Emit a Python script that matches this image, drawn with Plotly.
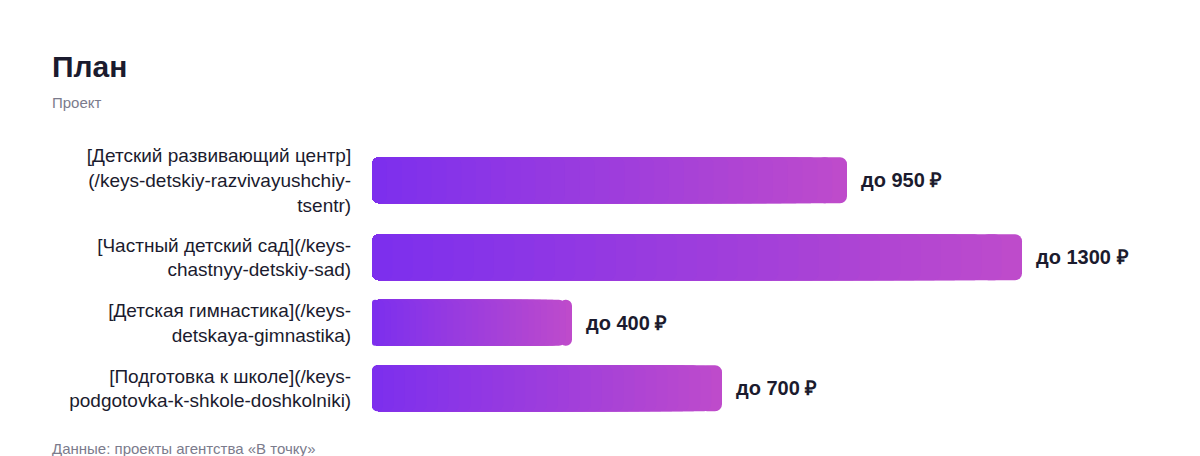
import plotly.graph_objects as go

# --- data ---
labels = [
    "[Детский развивающий центр]<br>(/keys-detskiy-razvivayushchiy-<br>tsentr)",
    "[Частный детский сад](/keys-<br>chastnyy-detskiy-sad)",
    "[Детская гимнастика](/keys-<br>detskaya-gimnastika)",
    "[Подготовка к школе](/keys-<br>podgotovka-k-shkole-doshkolniki)",
]
values = [950, 1300, 400, 700]
value_text = [f"до {v} ₽" for v in values]

TEXT = "#1b1b2e"
MUTED = "#7b7b8c"
C_LEFT = (124, 47, 238)
C_RIGHT = (190, 75, 203)
FONT = "Liberation Sans, Arial, sans-serif"

# page body has an 8px margin, so the figure is 8px smaller and everything shifted
W, H = 1192, 448
ML, MT, PW = 364, 128, 800

# row heights follow the number of label lines
LINE_H = 23
ROW_GAP = 19.5
lines = [lab.count("<br>") + 1 for lab in labels]
heights = [n * LINE_H + ROW_GAP for n in lines]
centers = []
acc = 0
for h in heights:
    centers.append(acc + h / 2)
    acc += h
total_h = acc


def mix(t):
    r, g, b = (round(a + (c - a) * t) for a, c in zip(C_LEFT, C_RIGHT))
    return f"rgb({r},{g},{b})"


def px_x(px):
    return (px - ML) / PW


def px_y(py):
    return (MT + total_h - py) / total_h


fig = go.Figure()

# gradient bars: a right-rounded cap underneath, then left-rounded layers on top
N = 32
fig.add_trace(go.Bar(
    orientation="h", y=centers,
    base=[v * (N - 2) / N for v in values],
    x=[v * 2 / N for v in values],
    width=46, marker=dict(color=mix(1), cornerradius=7, line_width=0),
    hoverinfo="skip", showlegend=False,
))
for k in range(N - 1, 0, -1):
    fig.add_trace(go.Bar(
        orientation="h", y=centers,
        base=[v * k / N for v in values],
        x=[-v * k / N for v in values],
        width=46, marker=dict(color=mix((k - 0.5) / N), cornerradius=7, line_width=0),
        hoverinfo="skip", showlegend=False,
    ))

for v, c, t in zip(values, centers, value_text):
    fig.add_annotation(x=v, y=c, text=f"<b>{t}</b>", showarrow=False,
                       xanchor="left", xshift=12,
                       font=dict(size=20, color=TEXT, family=FONT))

fig.add_annotation(x=px_x(42), y=px_y(94), xref="paper", yref="paper",
                   text="Проект", showarrow=False, xanchor="left", yanchor="middle",
                   font=dict(size=15, color=MUTED, family=FONT))
fig.add_annotation(x=px_x(42), y=px_y(440), xref="paper", yref="paper",
                   text="Данные: проекты агентства «В точку»", showarrow=False,
                   xanchor="left", yanchor="middle",
                   font=dict(size=15, color=MUTED, family=FONT))

fig.update_layout(
    width=W, height=H,
    margin=dict(l=ML, r=W - ML - PW, t=MT, b=H - MT - total_h),
    paper_bgcolor="white", plot_bgcolor="white",
    barmode="overlay",
    font=dict(family=FONT, color=TEXT),
    title=dict(text="<b>План</b>", x=44 / W, xref="container", xanchor="left",
               y=1 - 58 / H, yref="container", yanchor="middle",
               font=dict(size=30, color=TEXT, family=FONT)),
    xaxis=dict(range=[0, 1600], visible=False, fixedrange=True),
    yaxis=dict(range=[total_h, 0], tickvals=centers, ticktext=labels,
               showgrid=False, zeroline=False, showline=False,
               ticks="outside", ticklen=16, tickcolor="rgba(0,0,0,0)",
               tickfont=dict(size=19, color=TEXT, family=FONT), fixedrange=True),
)

fig.write_html("out.html")
